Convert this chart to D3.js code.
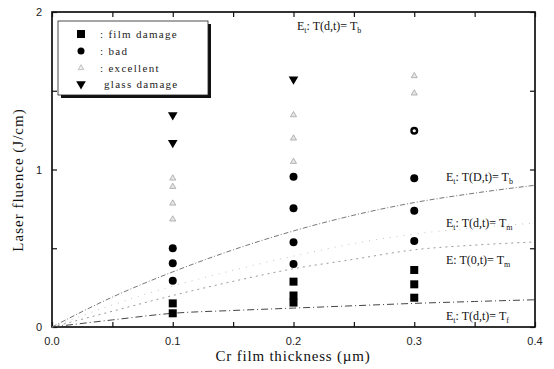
<!DOCTYPE html>
<html><head><meta charset="utf-8">
<script src="https://cdn.jsdelivr.net/npm/d3@7"></script>
<style>body{margin:0;background:#fff}svg{display:block}</style>
</head><body><svg id="c" width="554" height="369"></svg>
<script>
// ---- data ----
const filmX = [0.1, 0.1, 0.2, 0.2, 0.2, 0.3, 0.3, 0.3];
const filmY = [0.15, 0.087, 0.288, 0.2, 0.155, 0.362, 0.271, 0.186];
const badX = [0.1, 0.1, 0.1, 0.2, 0.2, 0.2, 0.2, 0.3, 0.3, 0.3, 0.3];
const badY = [0.5, 0.404, 0.294, 0.954, 0.754, 0.538, 0.40, 1.246, 0.944, 0.738, 0.546];
const excX = [0.1, 0.1, 0.1, 0.1, 0.2, 0.2, 0.2, 0.3, 0.3];
const excY = [0.944, 0.891, 0.785, 0.684, 1.346, 1.198, 1.05, 1.594, 1.484];
const glassX = [0.1, 0.1, 0.2];
const glassY = [1.346, 1.17, 1.573];
const lineX = [0, 0.05, 0.1, 0.15, 0.2, 0.25, 0.3, 0.35, 0.4];
const lineTbD = [0, 0.19, 0.35, 0.49, 0.61, 0.71, 0.79, 0.85, 0.90];
const lineTmd = [0, 0.14, 0.26, 0.36, 0.45, 0.53, 0.59, 0.63, 0.66];
const lineTm0 = [0, 0.10, 0.20, 0.29, 0.37, 0.43, 0.49, 0.52, 0.54];
const lineTs = [0, 0.045, 0.087, 0.105, 0.12, 0.135, 0.15, 0.162, 0.173];
const xTicks = [0, 0.1, 0.2, 0.3, 0.4];
const xTickLabels = ["0.0", "0.1", "0.2", "0.3", "0.4"];
const yTicks = [0, 1, 2];
const legendLabels = [": film damage", ": bad", ": excellent", "glass damage"];

// ---- layout ----
const svg = d3.select("#c");
const L = 52, R = 535, T = 12, B = 327;
const x = d3.scaleLinear().domain([0, 0.4]).range([L, R]);
const y = d3.scaleLinear().domain([0, 2]).range([B, T]);
const serif = "'Liberation Serif','DejaVu Serif',serif";
const sans = "'Liberation Sans',Arial,sans-serif";

// frame
svg.append("rect").attr("x", L).attr("y", T).attr("width", R - L).attr("height", B - T)
  .attr("fill", "none").attr("stroke", "#000").attr("stroke-width", 1.6);

// axes ticks (inward)
const minorX = d3.range(0, 0.401, 0.05);
const minorY = d3.range(0, 2.01, 0.5);
const gB = svg.append("g").attr("transform", `translate(0,${B})`)
  .call(d3.axisBottom(x).tickValues(minorX).tickSize(-5).tickFormat(""));
const gT = svg.append("g").attr("transform", `translate(0,${T})`)
  .call(d3.axisTop(x).tickValues(minorX).tickSize(-5).tickFormat(""));
const gL = svg.append("g").attr("transform", `translate(${L},0)`)
  .call(d3.axisLeft(y).tickValues(minorY).tickSize(-5).tickFormat(""));
const gR = svg.append("g").attr("transform", `translate(${R},0)`)
  .call(d3.axisRight(y).tickValues(minorY).tickSize(-5).tickFormat(""));
[gB, gT, gL, gR].forEach(g => { g.select(".domain").remove(); g.selectAll("line").attr("stroke", "#111").attr("stroke-width", 1.2); });

// tick labels
svg.append("g").selectAll("text").data(xTicks).join("text")
  .attr("x", d => x(d)).attr("y", 345).attr("text-anchor", "middle")
  .attr("font-family", sans).attr("font-size", 11).attr("fill", "#222")
  .text((d, i) => xTickLabels[i]);
svg.append("g").selectAll("text").data(yTicks).join("text")
  .attr("x", 42).attr("y", d => y(d) + 4).attr("text-anchor", "end")
  .attr("font-family", sans).attr("font-size", 11).attr("fill", "#222")
  .text(d => d);

// axis titles
svg.append("text").attr("x", 293).attr("y", 361).attr("text-anchor", "middle")
  .attr("font-family", serif).attr("font-size", 15).attr("letter-spacing", 0.8).attr("fill", "#111")
  .text("Cr film  thickness (\u00b5m)");
svg.append("text").attr("transform", "translate(23,180) rotate(-90)").attr("text-anchor", "middle")
  .attr("font-family", serif).attr("font-size", 15).attr("letter-spacing", 1).attr("fill", "#111")
  .text("Laser fluence (J/cm)");

// curves
const line = d3.line().x((d, i) => x(lineX[i])).y(d => y(d)).curve(d3.curveMonotoneX);
svg.append("path").attr("d", line(lineTbD)).attr("fill", "none").attr("stroke", "#777")
  .attr("stroke-width", 1).attr("stroke-dasharray", "5,2,1,2");
svg.append("path").attr("d", line(lineTmd)).attr("fill", "none").attr("stroke", "#c4c4c4")
  .attr("stroke-width", 1).attr("stroke-dasharray", "1,6");
svg.append("path").attr("d", line(lineTm0)).attr("fill", "none").attr("stroke", "#9a9a9a")
  .attr("stroke-width", 1).attr("stroke-dasharray", "2,4");
svg.append("path").attr("d", line(lineTs)).attr("fill", "none").attr("stroke", "#444")
  .attr("stroke-width", 1).attr("stroke-dasharray", "7,3,1,3");

// markers
const sq = d3.symbol().type(d3.symbolSquare).size(64);
const tri = d3.symbol().type(d3.symbolTriangle).size(40);
svg.append("g").selectAll("path").data(filmX).join("path")
  .attr("transform", (d, i) => `translate(${x(d)},${y(filmY[i])})`).attr("d", sq).attr("fill", "#000");
svg.append("g").selectAll("circle").data(badX).join("circle")
  .attr("cx", d => x(d)).attr("cy", (d, i) => y(badY[i])).attr("r", 4).attr("fill", "#000");
svg.append("circle").attr("cx", x(badX[7])).attr("cy", y(badY[7])).attr("r", 1.6).attr("fill", "#fff");
svg.append("g").selectAll("path").data(excX).join("path")
  .attr("transform", (d, i) => `translate(${x(d)},${y(excY[i])})`)
  .attr("d", d3.symbol().type(d3.symbolTriangle).size(16))
  .attr("fill", "#e6e6e6").attr("stroke", "#999").attr("stroke-width", 0.7);

svg.append("g").selectAll("path").data(glassX).join("path")
  .attr("transform", (d, i) => `translate(${x(d)},${y(glassY[i])}) rotate(180)`).attr("d", tri).attr("fill", "#000");

// legend
const lg = svg.append("g");
lg.append("rect").attr("x", 61).attr("y", 24).attr("width", 150).attr("height", 74).attr("fill", "#111");
lg.append("rect").attr("x", 58).attr("y", 21).attr("width", 150).attr("height", 74)
  .attr("fill", "#fff").attr("stroke", "#222").attr("stroke-width", 0.8);
const rowsY = [34, 51, 68, 84];
lg.append("path").attr("transform", `translate(81,${rowsY[0]})`).attr("d", sq).attr("fill", "#000");
lg.append("circle").attr("cx", 81).attr("cy", rowsY[1]).attr("r", 3.5).attr("fill", "#000");
lg.append("path").attr("transform", `translate(81,${rowsY[2]})`)
  .attr("d", d3.symbol().type(d3.symbolTriangle).size(14)).attr("fill", "#eee").attr("stroke", "#aaa").attr("stroke-width", 0.7);
lg.append("path").attr("transform", `translate(81,${rowsY[3]}) rotate(180)`).attr("d", tri).attr("fill", "#000");
lg.selectAll("text.l").data(legendLabels).join("text").attr("class", "l")
  .attr("x", (d, i) => i === 3 ? 104 : 100).attr("y", (d, i) => rowsY[i] + 4)
  .attr("font-family", serif).attr("font-size", 11).attr("letter-spacing", 1.3).attr("fill", "#222")
  .text(d => d);

// annotations
function ann(px, py, sub1, mid, sub2) {
  const t = svg.append("text").attr("x", px).attr("y", py)
    .attr("font-family", serif).attr("font-size", 12).attr("fill", "#111");
  t.append("tspan").text("E");
  if (sub1) t.append("tspan").attr("dy", 3).attr("font-size", 8).text(sub1);
  t.append("tspan").attr("dy", sub1 ? -3 : 0).text(mid);
  t.append("tspan").attr("dy", 3).attr("font-size", 8).text(sub2);
}
ann(297, 30, "t", ": T(d,t)= T", "b");
ann(446, 181, "t", ": T(D,t)= T", "b");
ann(446, 227, "t", ": T(d,t)= T", "m");
ann(446, 264, "", ": T(0,t)= T", "m");
ann(446, 320, "t", ": T(d,t)= T", "f");
</script></body></html>
